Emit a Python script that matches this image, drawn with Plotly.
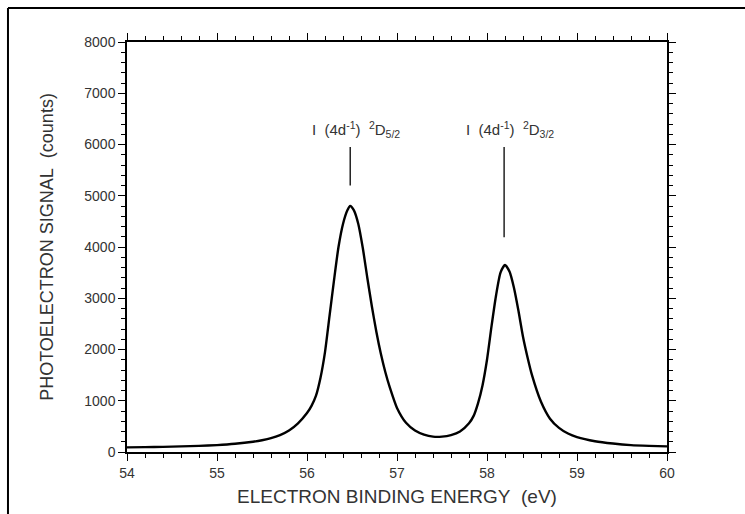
import plotly.graph_objects as go

# Spectrum
energy = [54.0, 54.2, 54.4, 54.6, 54.8, 55.0, 55.2, 55.4, 55.5, 55.6, 55.7, 55.8, 55.9,
          56.0, 56.05, 56.1, 56.15, 56.2, 56.25, 56.3, 56.35, 56.4, 56.45, 56.48, 56.52,
          56.57, 56.62, 56.67, 56.72, 56.77, 56.82, 56.87, 56.92, 57.0, 57.1, 57.2, 57.3,
          57.4, 57.5, 57.6, 57.7, 57.8, 57.85, 57.9, 57.95, 58.0, 58.05, 58.1, 58.15, 58.2,
          58.25, 58.3, 58.35, 58.4, 58.45, 58.5, 58.6, 58.7, 58.8, 58.9, 59.0, 59.2, 59.4,
          59.6, 59.8, 60.0]
counts = [90, 95, 100, 110, 120, 135, 160, 200, 230, 270, 330, 420, 560,
          760, 900, 1100, 1450, 1950, 2650, 3350, 4000, 4450, 4720, 4800, 4720,
          4450, 3980, 3400, 2850, 2350, 1920, 1560, 1260, 860, 570, 420, 340,
          300, 300, 330, 400, 560, 700, 950, 1300, 1800, 2450, 3050, 3500, 3650,
          3520, 3200, 2750, 2250, 1850, 1500, 980, 650, 470, 360, 290, 210, 165,
          135, 120, 110]

# Peak labels
label_x = [56.48, 58.19]
label_text = ["I&nbsp; (4d<sup>-1</sup>)&nbsp; <sup>2</sup>D<sub>5/2</sub>",
              "I&nbsp; (4d<sup>-1</sup>)&nbsp; <sup>2</sup>D<sub>3/2</sub>"]
label_y = 6300
line_top = 5950
line_bottom = [5200, 4190]

x_ticks = [54, 55, 56, 57, 58, 59, 60]
y_ticks = [0, 1000, 2000, 3000, 4000, 5000, 6000, 7000, 8000]

FONT = "Liberation Sans, Arial, Helvetica, sans-serif"
TXT = "#333"

fig = go.Figure()
fig.add_trace(go.Scatter(x=energy, y=counts, mode="lines",
                         line=dict(color="black", width=2.4, shape="spline", smoothing=0.6),
                         showlegend=False, hoverinfo="skip"))

for xv, txt, yb in zip(label_x, label_text, line_bottom):
    fig.add_shape(type="line", xref="x", yref="y", x0=xv, x1=xv, y0=yb, y1=line_top,
                  line=dict(color="black", width=1.3))
    fig.add_annotation(x=xv, y=label_y, xref="x", yref="y", text=txt, showarrow=False,
                       xanchor="center", yanchor="middle", xshift=6,
                       font=dict(family=FONT, size=15, color=TXT))

# Outer frame (left and top edges)
fig.add_shape(type="line", xref="paper", yref="paper", x0=-0.2204, x1=-0.2204, y0=1.083, y1=-0.2,
              line=dict(color="black", width=2))
fig.add_shape(type="line", xref="paper", yref="paper", x0=-0.2204, x1=1.2, y0=1.083, y1=1.083,
              line=dict(color="black", width=2))

axis_common = dict(showline=True, linecolor="black", linewidth=1.5, mirror="allticks",
                   ticks="outside", ticklen=7, tickwidth=1.3, tickcolor="black",
                   showgrid=False, zeroline=False,
                   tickfont=dict(family=FONT, size=14, color=TXT))

fig.update_xaxes(range=[54, 60], tickvals=x_ticks, ticktext=[str(v) for v in x_ticks],
                 minor=dict(dtick=0.2, ticklen=4, tickwidth=1.1, tickcolor="black", ticks="outside"),
                 title=dict(text="ELECTRON BINDING ENERGY&nbsp; (eV)", standoff=10,
                            font=dict(family=FONT, size=19, color=TXT)),
                 **axis_common)
fig.update_yaxes(range=[0, 8000], tickvals=y_ticks, ticktext=[str(v) for v in y_ticks],
                 minor=dict(dtick=200, ticklen=4, tickwidth=1.1, tickcolor="black", ticks="outside"),
                 title=dict(text="PHOTOELECTRON SIGNAL&nbsp; (counts)", standoff=26,
                            font=dict(family=FONT, size=18, color=TXT)),
                 **axis_common)

fig.update_layout(width=745, height=514, margin=dict(l=127, r=78, t=42, b=62, autoexpand=False),
                  plot_bgcolor="white", paper_bgcolor="white", showlegend=False)

fig.write_html("out.html", config={"displayModeBar": False},
               post_script="document.body.style.margin='0';document.body.style.overflow='hidden';")
